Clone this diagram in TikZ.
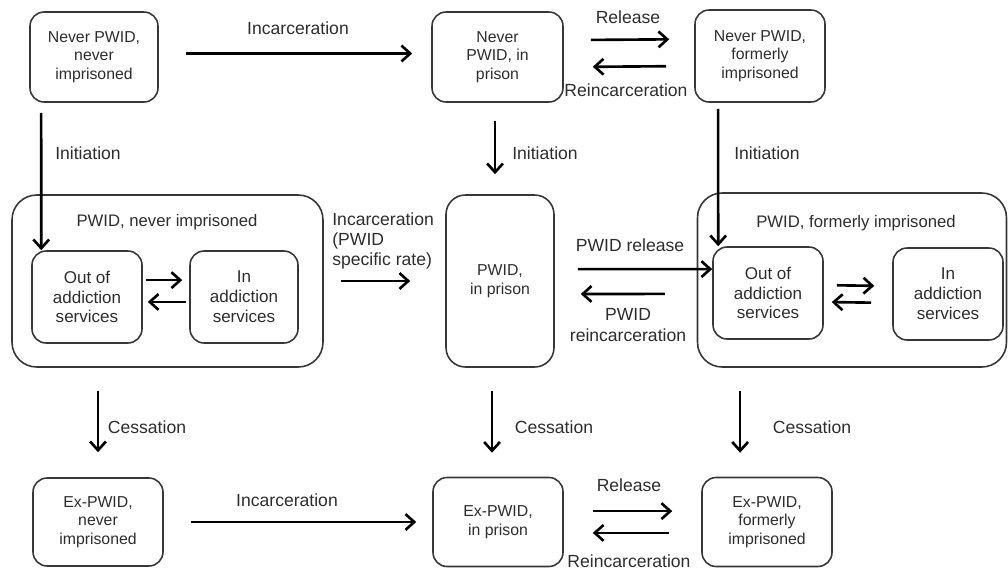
\documentclass[tikz,border=0pt]{standalone}
\usepackage{fontspec}
\setmainfont{Liberation Sans}
\usetikzlibrary{arrows.meta}
\definecolor{boxgray}{RGB}{55,55,55}
\definecolor{txtgray}{RGB}{45,45,45}
\tikzset{
  box/.style={draw=boxgray, line width=0.9pt, rounded corners=8pt, align=center, text=txtgray, font=\fontsize{9}{10.5}\selectfont, inner sep=1pt},
  inbox/.style={box, rounded corners=8pt, font=\fontsize{9.7}{11.3}\selectfont, minimum width=2.2cm, minimum height=1.84cm},
  bigbox/.style={draw=boxgray, line width=0.9pt, rounded corners=14pt},
  lbl/.style={text=txtgray, font=\fontsize{10}{11.5}\selectfont, align=center, inner sep=0pt},
  arr/.style={line width=1.5pt, -{Straight Barb[length=5pt,width=9pt]}},
}
\begin{document}
\begin{tikzpicture}[x=0.02cm, y=-0.02cm]
\useasboundingbox (0,0) rectangle (1008,569);
% top row
\node[box, minimum width=2.56cm, minimum height=1.8cm] (nnever) at (94,57) {Never PWID,\\never\\imprisoned};
\node[box, minimum width=2.62cm, minimum height=1.8cm] (nprison) at (497.5,57) {Never\\PWID, in\\prison};
\node[box, minimum width=2.6cm, minimum height=1.84cm] (nformer) at (760,56) {Never PWID,\\formerly\\imprisoned};
% middle row
\node[bigbox, minimum width=6.22cm, minimum height=3.44cm] (pnever) at (167.5,281) {};
\node[lbl, font=\fontsize{9.5}{11}\selectfont] (lpnever) at (167,222) {PWID, never imprisoned};
\node[inbox] (poutn) at (87,297) {Out of\\addiction\\services};
\node[inbox, minimum width=2.16cm] (pinn) at (244,297) {In\\addiction\\services};
\node[box, rounded corners=11pt, minimum width=2.16cm, minimum height=3.44cm] (pprison) at (500,281) {PWID,\\in prison};
\node[bigbox, minimum width=6.18cm, minimum height=3.48cm] (pformer) at (852,280) {};
\node[lbl, font=\fontsize{9.5}{11}\selectfont] (lpformer) at (856,223) {PWID, formerly imprisoned};
\node[inbox] (poutf) at (768,293) {Out of\\addiction\\services};
\node[inbox] (pinf) at (948,294) {In\\addiction\\services};
% bottom row
\node[box, minimum width=2.6cm, minimum height=1.76cm] (exnever) at (98,522) {Ex-PWID,\\never\\imprisoned};
\node[box, minimum width=2.6cm, minimum height=1.78cm] (exprison) at (498,522) {Ex-PWID,\\in prison};
\node[box, minimum width=2.6cm, minimum height=1.78cm] (exformer) at (767,522) {Ex-PWID,\\formerly\\imprisoned};
% labels
\node[lbl] (linc1) at (298,28) {Incarceration};
\node[lbl] (lrel1) at (628,17) {Release};
\node[lbl] (lreinc1) at (626,90) {Reincarceration};
\node[lbl] (linit1) at (88,153) {Initiation};
\node[lbl] (linit2) at (545,153) {Initiation};
\node[lbl] (linit3) at (767,153) {Initiation};
\node[lbl, align=left, anchor=west] (linc2) at (332,241) {Incarceration\\(PWID\\specific rate)};
\node[lbl] (lrel2) at (630,245) {PWID release};
\node[lbl] (lreinc2) at (628,325) {PWID\\reincarceration};
\node[lbl] (lcess1) at (147,427) {Cessation};
\node[lbl] (lcess2) at (554,427) {Cessation};
\node[lbl] (lcess3) at (812,427) {Cessation};
\node[lbl] (linc3) at (287,500) {Incarceration};
\node[lbl] (lrel3) at (629,485) {Release};
\node[lbl] (lreinc3) at (629,561) {Reincarceration};
% connectors
\draw[arr, shorten <=0.54cm, shorten >=0.38cm] ([yshift=2pt]nnever.east) -- ([yshift=2pt]nprison.west);
\draw[arr, shorten <=0.54cm, shorten >=0.5cm] ([yshift=9.6pt]nprison.east) -- ([yshift=9.6pt]nformer.west);
\draw[arr, shorten <=0.56cm, shorten >=0.58cm] ([yshift=-5.7pt]nformer.west) -- ([yshift=-5.7pt]nprison.east);
\draw[arr] ([xshift=6.8pt,yshift=-5.7pt]nnever.south west) -- ([xshift=5.7pt]poutn.north west);
\draw[arr, shorten <=0.36cm, shorten >=0.4cm] ([xshift=-1.4pt]nprison.south) -- ([xshift=-1.4pt]nprison.south |- pprison.north);
\draw[arr] ([xshift=13.6pt,yshift=-3.4pt]nformer.south west) -- ([xshift=3.4pt]poutf.north west);
\draw[arr, shorten <=0.06cm, shorten >=0.14cm] ([yshift=9.6pt]poutn.east) -- ([yshift=9.6pt]pinn.west);
\draw[arr, shorten <=0.06cm, shorten >=0.1cm] ([yshift=-2.8pt]pinn.west) -- ([yshift=-2.8pt]poutn.east);
\draw[arr, shorten <=0.34cm, shorten >=0.7cm] (pnever.east) -- (pprison.west);
\draw[arr, shorten <=0.46cm] ([yshift=6.8pt]pprison.east) -- ([yshift=13.6pt]poutf.west);
\draw[arr, shorten <=0.64cm, shorten >=0.52cm] ([yshift=-7.9pt]pformer.west) -- ([yshift=-7.4pt]pprison.east);
\draw[arr, shorten <=0.26cm, shorten >=0.36cm] ([yshift=4.5pt]poutf.east) -- ([yshift=4.5pt]pinf.west);
\draw[arr, shorten <=0.42cm, shorten >=0.16cm] ([yshift=-5.1pt]pinf.west) -- ([yshift=-5.1pt]poutf.east);
\draw[arr, shorten <=0.46cm, shorten >=0.5cm] (pnever.south -| exnever.north) -- (exnever.north);
\draw[arr, shorten <=0.46cm, shorten >=0.48cm] ([xshift=-3.4pt]pprison.south -| exprison.north) -- ([xshift=-3.4pt]exprison.north);
\draw[arr, shorten <=0.46cm, shorten >=0.48cm] ([xshift=-15.3pt]pformer.south -| exformer.north) -- ([xshift=-15.3pt]exformer.north);
\draw[arr, shorten <=0.54cm, shorten >=0.32cm] (exnever.east) -- (exprison.west);
\draw[arr, shorten <=0.58cm, shorten >=0.58cm] ([yshift=6.2pt]exprison.east) -- ([yshift=6.2pt]exformer.west);
\draw[arr, shorten <=0.64cm, shorten >=0.58cm] ([yshift=-6.2pt]exformer.west) -- ([yshift=-6.2pt]exprison.east);
\end{tikzpicture}
\end{document}
